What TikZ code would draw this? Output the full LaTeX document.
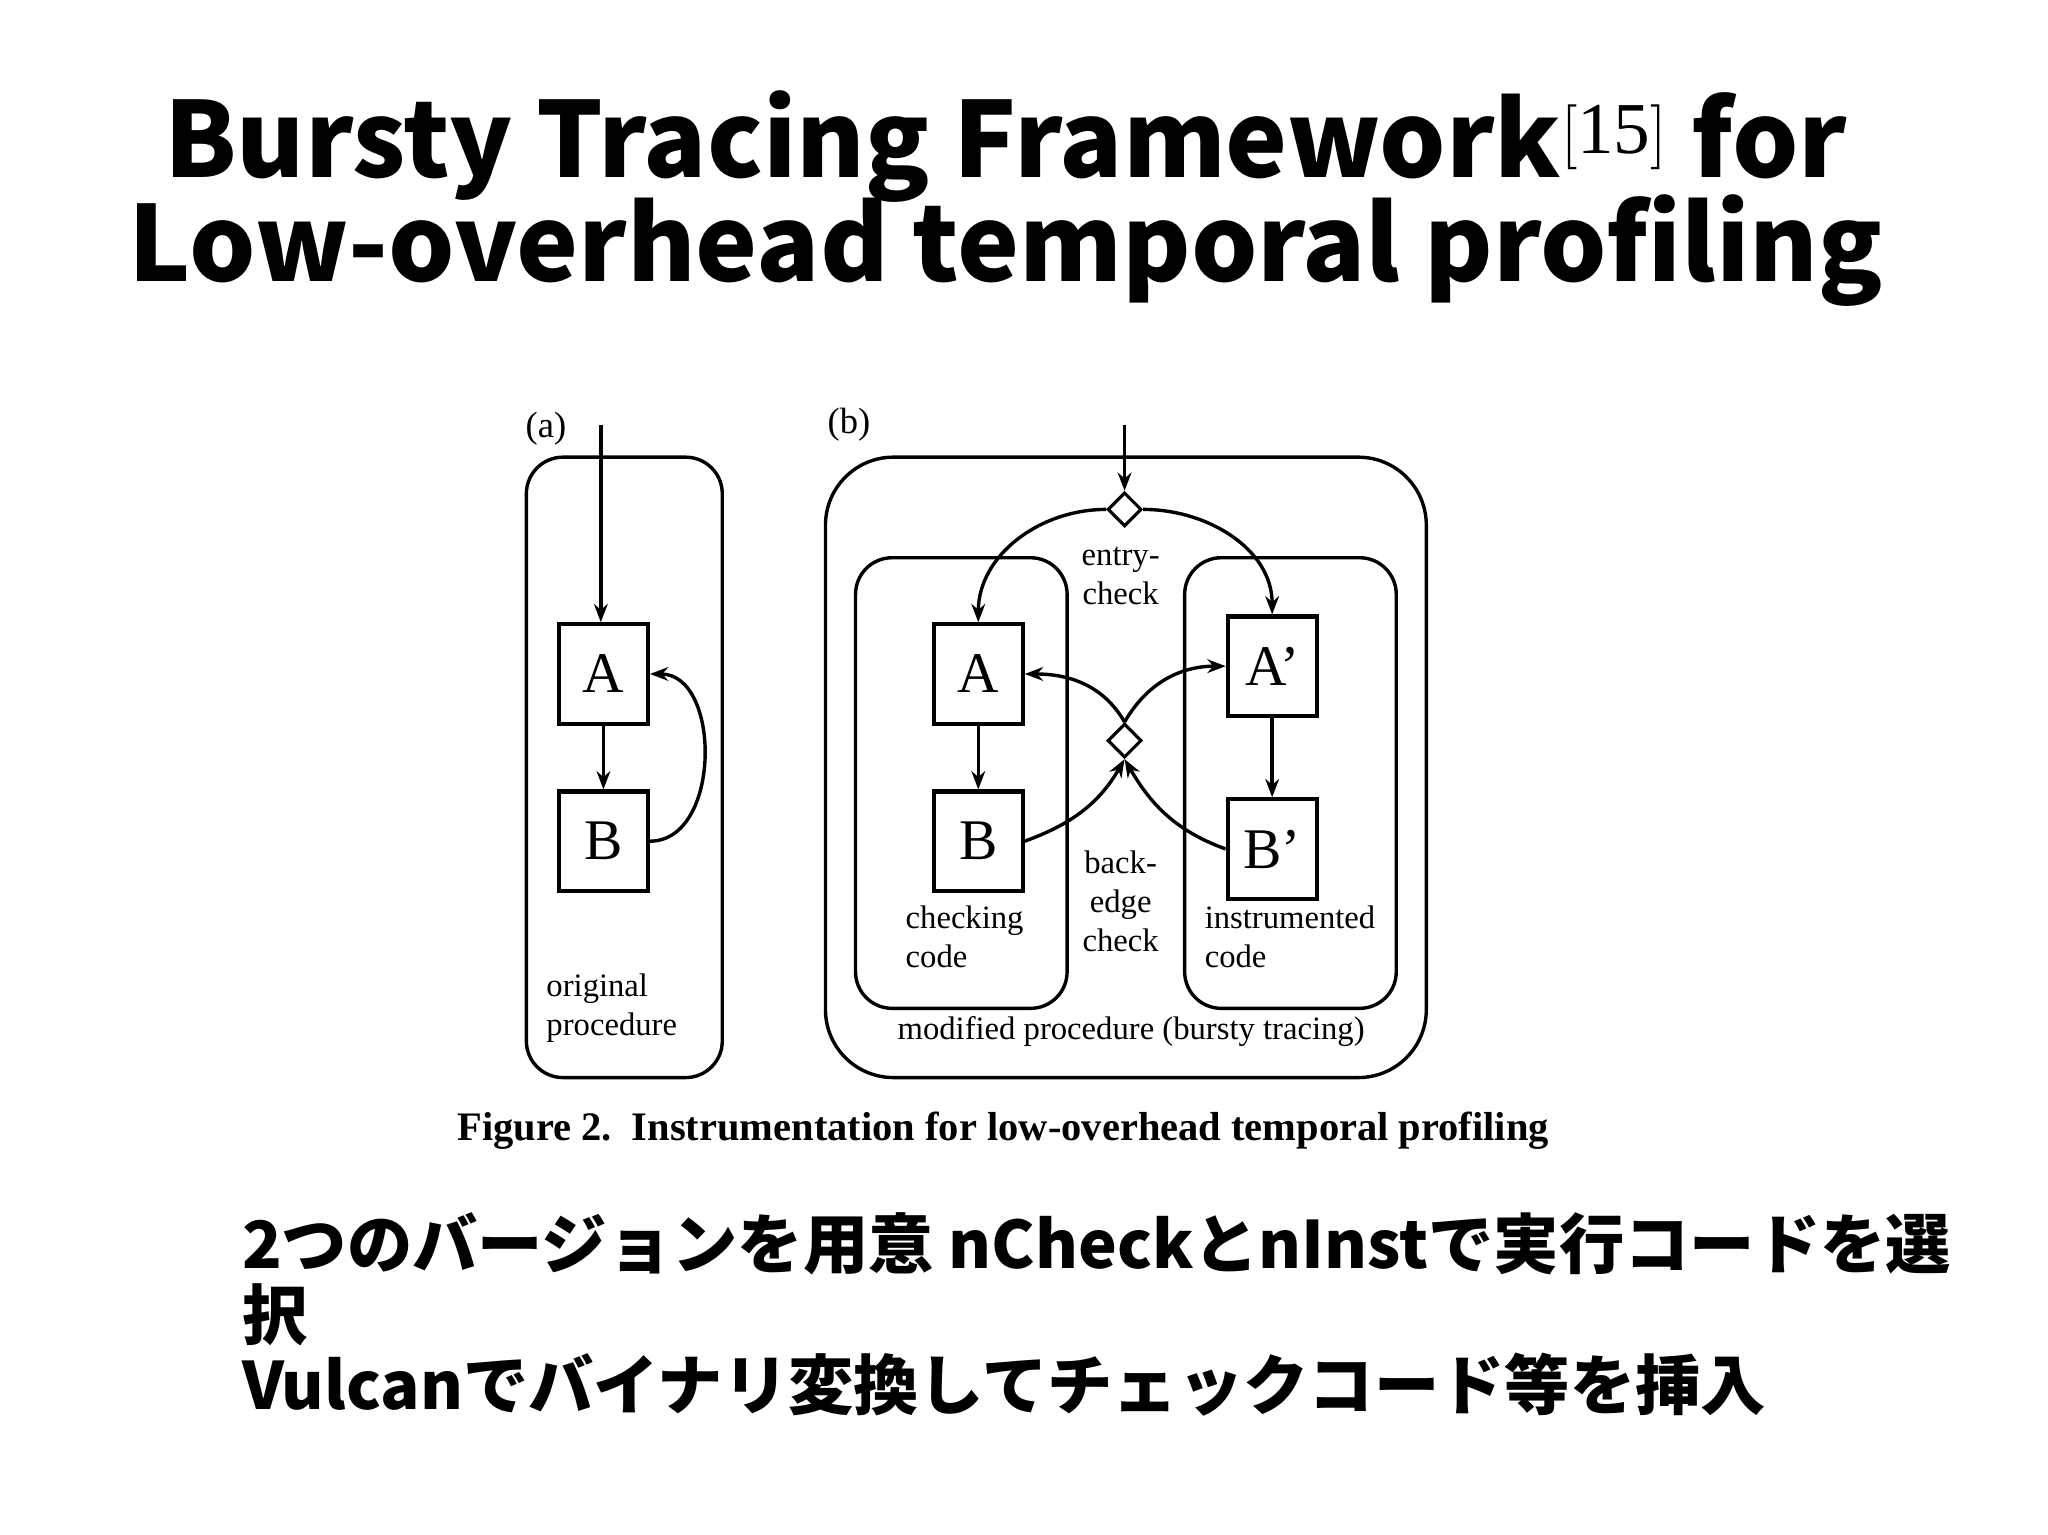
\documentclass[tikz,border=0pt]{standalone}
\usepackage{fontspec}
\setmainfont{Liberation Serif}
\newfontfamily\jpfont{Noto Sans CJK JP}
\usetikzlibrary{shapes.geometric,arrows.meta}

\begin{document}
\begin{tikzpicture}[x=0.5pt, y=-0.5pt]
		\tikzset{
			block/.style={
				draw,
				line width=1.6pt,
				minimum width=34pt,
				minimum height=38pt,
				inner sep=0pt,
				font=\fontsize{22}{24}\selectfont
			},
			frame/.style={
				draw,
				line width=1.3pt,
				rounded corners=14pt
			},
			switch/.style={
				draw,
				diamond,
				line width=1.2pt,
				fill=white,
				minimum size=13pt,
				inner sep=0pt
			},
			lbl/.style={
				align=left,
				inner sep=0pt,
				font=\fontsize{12.5}{15}\selectfont
			},
			line/.style={
				-{Stealth[length=7pt]},
				line width=1.3pt
			}
		}
		\useasboundingbox (0,0) rectangle (1568,1175);

		% title
		\node[font=\jpfont\bfseries\fontsize{40}{43}\selectfont, align=center] (title) at (770,152)
			{Bursty Tracing Framework$^{\mathrm{[15]}}$ for\\[-3pt] Low-overhead temporal profiling};

		% (a) original procedure
		\node[lbl, font=\fontsize{14}{16}\selectfont] (la) at (418,328) {(a)};
		\draw[frame] (403,350) rectangle (553,825);
		\node[block] (a-A) at (462,516) {A};
		\node[block] (a-B) at (462,644) {B};
		\coordinate (a-in) at (460,325);
		\node[lbl, anchor=north west] (a-txt) at (418,745) {original\\procedure};

		\draw[line] (a-in) -- (a-in |- a-A.north);
		\draw[line] (a-A) -- (a-B);
		\draw[line] (a-B.east) to[out=0, in=0, looseness=1.1] (a-A.east);

		% (b) modified procedure
		\node[lbl, font=\fontsize{14}{16}\selectfont] (lb) at (650,325) {(b)};
		\draw[frame, rounded corners=26pt] (632,350) rectangle (1092,825);
		\draw[frame] (655,427) rectangle (817,772);
		\draw[frame] (907,427) rectangle (1069,772);

		\node[switch] (entry) at (861,390) {};
		\node[switch] (back) at (861,567) {};
		\coordinate (b-in) at (861,325);

		\node[block] (b-A) at (749,516) {A};
		\node[block] (b-B) at (749,644) {B};
		\node[block] (b-A2) at (974,510) {A'};
		\node[block] (b-B2) at (974,650) {B'};

		\node[lbl, align=center] (t-entry) at (858,441) {entry-\\check};
		\node[lbl, align=center] (t-back) at (858,690) {back-\\edge\\check};
		\node[lbl, anchor=north west] (t-check) at (693,693) {checking\\code};
		\node[lbl, anchor=north west] (t-instr) at (922,693) {instrumented\\code};
		\node[lbl] (t-mod) at (866,790) {modified procedure (bursty tracing)};

		\draw[line] (b-in) -- (entry.north);
		\draw[line] (entry.west) to[out=180, in=90] (b-A.north);
		\draw[line] (entry.east) to[out=0, in=90] (b-A2.north);
		\draw[line] (b-A) -- (b-B);
		\draw[line] (b-A2) -- (b-B2);
		\draw[line] (back.north) to[out=120, in=0] (b-A.east);
		\draw[line] (back.north) to[out=60, in=180] (b-A2.west);
		\draw[line] (b-B.east) to[out=20, in=-120] (back.south);
		\draw[line] (b-B2.west) to[out=160, in=-60] (back.south);

		% caption
		\node[font=\bfseries\fontsize{15.5}{18}\selectfont] (cap) at (768,866)
			{Figure 2.\ \ Instrumentation for low-overhead temporal profiling};

		% bullet text
		\node[anchor=north west, align=left, inner sep=0pt,
			font=\jpfont\bfseries\fontsize{25}{27}\selectfont] (notes) at (185,928)
			{2つのバージョンを用意 nCheckとnInstで実行コードを選\\択\\Vulcanでバイナリ変換してチェックコード等を挿入};
	\end{tikzpicture}
\end{document}
